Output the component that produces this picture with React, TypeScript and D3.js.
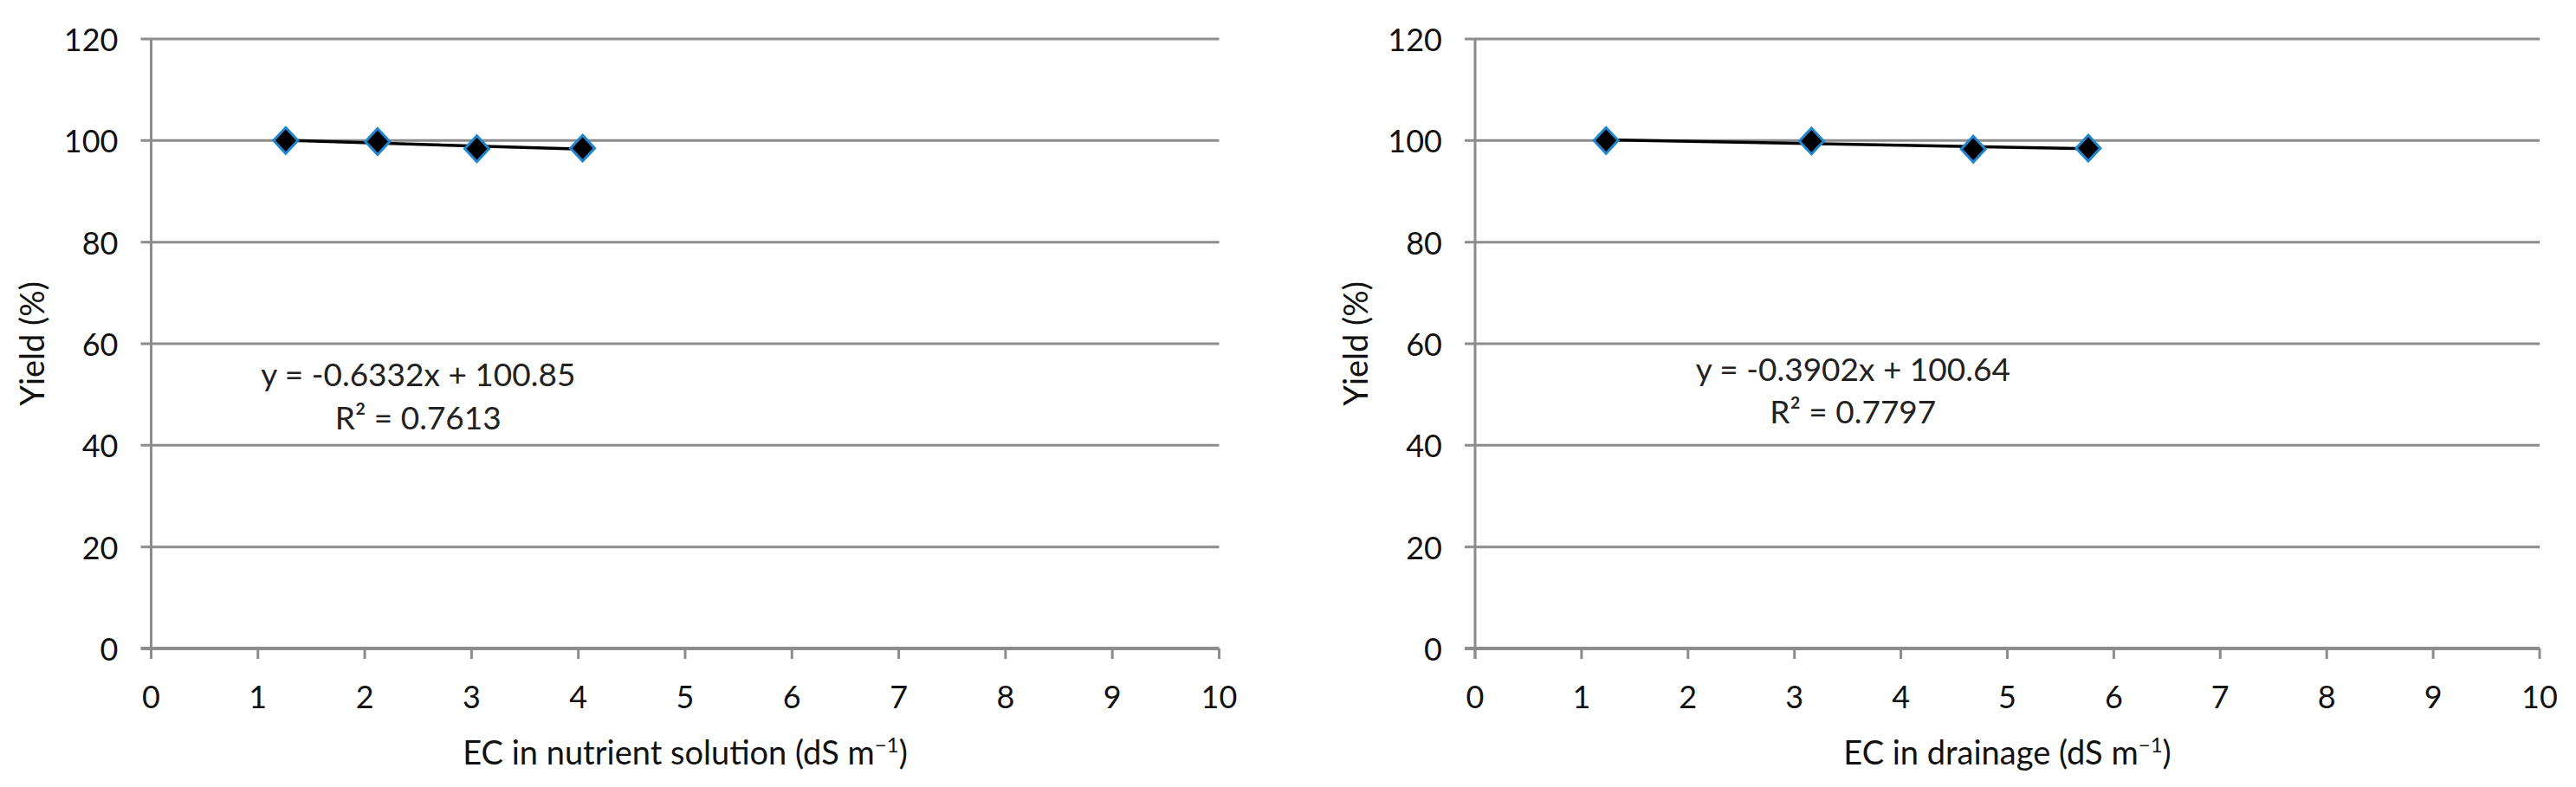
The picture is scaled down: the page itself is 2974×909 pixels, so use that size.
import React from 'react';
import * as d3 from 'd3';

// axis ticks
const xTicks = [0, 1, 2, 3, 4, 5, 6, 7, 8, 9, 10];
const yTicks = [0, 20, 40, 60, 80, 100, 120];

// left panel: nutrient solution
const nutrientEC = [1.26, 2.12, 3.05, 4.04];
const nutrientYield = [100, 99.8, 98.4, 98.5];

// right panel: drainage
const drainageEC = [1.23, 3.16, 4.68, 5.76];
const drainageYield = [100, 99.9, 98.3, 98.5];

// trendlines
const slopes = [-0.6332, -0.3902];
const intercepts = [100.85, 100.64];
const rSquared = ['0.7613', '0.7797'];
const xTitles = ['EC in nutrient solution (dS m', 'EC in drainage (dS m'];

const FONT = 'Lato, "Open Sans", sans-serif';
const GRID = '#8c8c8c';
const BLUE = '#1f86cf';

const Panel = ({ x0, x1, ecs, ylds, slope, intercept, r2, title, eq }) => {
	const top = 45, bottom = 749;
	const x = d3.scaleLinear().domain([0, 10]).range([x0, x1]);
	const y = d3.scaleLinear().domain([0, 120]).range([bottom, top]);

	const ext = d3.extent(ecs);
	const trend = d3.line()([
		[x(ext[0]), y(slope * ext[0] + intercept)],
		[x(ext[1]), y(slope * ext[1] + intercept)],
	]);

	const hw = 14, hh = 15;
	const diamond = (cx, cy) => `M${cx},${cy - hh}L${cx + hw},${cy}L${cx},${cy + hh}L${cx - hw},${cy}Z`;

	const sign = slope < 0 ? '-' : '+';

	return (
		<g fontFamily={FONT} fill="#111">
			{/* horizontal grid */}
			{yTicks.map(t =>
				<line key={'g' + t} x1={x0 - 12} x2={x1} y1={y(t)} y2={y(t)}
					stroke={GRID} strokeWidth={t === 0 ? 4 : 3} />
			)}
			{/* y axis */}
			<line x1={x0} x2={x0} y1={top} y2={bottom + 12} stroke={GRID} strokeWidth={3} />
			{xTicks.map(t =>
				<line key={'xt' + t} x1={x(t)} x2={x(t)} y1={bottom} y2={bottom + 12} stroke={GRID} strokeWidth={3} />
			)}
			{yTicks.map(t =>
				<text key={'yl' + t} x={x0 - 38} y={y(t)} textAnchor="end" dominantBaseline="central" fontSize={36}>{t}</text>
			)}
			{xTicks.map(t =>
				<text key={'xl' + t} x={x(t)} y={bottom + 69} textAnchor="middle" fontSize={36}>{t}</text>
			)}
			<text x={(x0 + x1) / 2} y={883} textAnchor="middle" fontSize={38}>
				{title}<tspan fontSize={24} dy={-14}>−1</tspan><tspan dy={14}>)</tspan>
			</text>
			<text transform={`translate(${x0 - 124},${(top + bottom) / 2}) rotate(-90)`} textAnchor="middle" fontSize={38}>Yield (%)</text>

			<path d={trend} stroke="#000" strokeWidth={3.5} fill="none" />
			{ecs.map((e, i) =>
				<path key={'p' + i} d={diamond(x(e), y(ylds[i]))} fill="#000" stroke={BLUE} strokeWidth={3} />
			)}

			<text x={x(eq[0])} y={y(eq[1])} textAnchor="middle" fontSize={37} fill="#222">
				{`y = ${sign}${Math.abs(slope).toFixed(4)}x + ${intercept.toFixed(2)}`}
			</text>
			<text x={x(eq[0])} y={y(eq[2])} textAnchor="middle" fontSize={37} fill="#222">
				{`R² = ${r2}`}
			</text>
		</g>
	);
};

export default function App() {
	return (
		<svg width={2974} height={909} style={{ position: 'absolute', left: 0, top: 0, background: '#fff' }}>
			<rect width={2974} height={909} fill="#fff" />
			<Panel x0={174.5} x1={1407.5} ecs={nutrientEC} ylds={nutrientYield}
				slope={slopes[0]} intercept={intercepts[0]} r2={rSquared[0]} title={xTitles[0]}
				eq={[2.5, 51.7, 43.1]} />
			<Panel x0={1703} x1={2932} ecs={drainageEC} ylds={drainageYield}
				slope={slopes[1]} intercept={intercepts[1]} r2={rSquared[1]} title={xTitles[1]}
				eq={[3.55, 52.7, 44.3]} />
		</svg>
	);
}
